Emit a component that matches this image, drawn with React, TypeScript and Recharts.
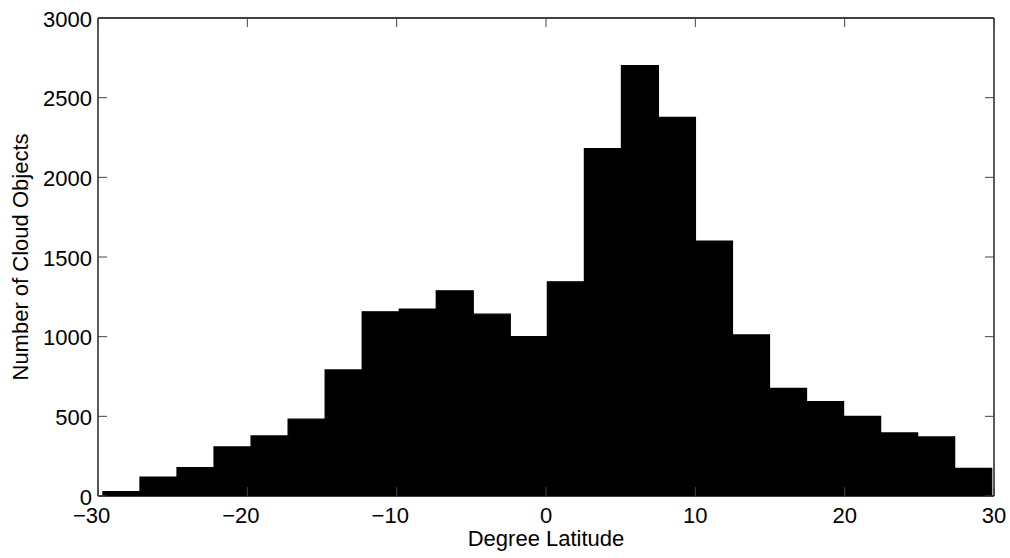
import { ComposedChart, Bar, Line, XAxis, YAxis, Label } from "recharts";

// histogram bin centres (degrees latitude) and counts per bin
const binCenters = [
  -28.43, -25.95, -23.47, -20.99, -18.51, -16.03, -13.55, -11.07, -8.59, -6.11,
  -3.63, -1.15, 1.33, 3.81, 6.29, 8.77, 11.25, 13.73, 16.21, 18.69, 21.17,
  23.65, 26.13, 28.61,
];
const counts = [
  27, 119, 178, 308, 377, 482, 791, 1156, 1173, 1288, 1141, 1001, 1344, 2180,
  2701, 2376, 1600, 1011, 676, 592, 500, 396, 371, 174,
];
const xTicks = [-30, -20, -10, 0, 10, 20, 30];
const yTicks = [0, 500, 1000, 1500, 2000, 2500, 3000];

const data = binCenters.map((x, i) => ({ x, count: counts[i] }));

const FONT = '"Liberation Sans", Helvetica, Arial, sans-serif';
const FS = 22;
const DIGIT_W = 0.556 * FS;
const TICK_LEN = 9;
const TICK_COLOR = "#444";
const FRAME = { stroke: "#000", strokeWidth: 1.3 };

function BottomTick(props: any) {
  const { x, y, payload } = props;
  const v = payload.value as number;
  const digits = String(Math.abs(v));
  const half = (digits.length * DIGIT_W) / 2;
  return (
    <g>
      <line x1={x} y1={y} x2={x} y2={y - TICK_LEN} stroke={TICK_COLOR} />
      <text x={x} y={y + 27} textAnchor="middle" fontSize={FS} fontFamily={FONT} fill="#000">
        {digits}
      </text>
      {v < 0 && (
        <text x={x - half} y={y + 27} textAnchor="end" fontSize={FS} fontFamily={FONT} fill="#000">
          {"\u2212"}
        </text>
      )}
    </g>
  );
}

function TopTick(props: any) {
  const { x, y } = props;
  return <line x1={x} y1={y} x2={x} y2={y + TICK_LEN} stroke={TICK_COLOR} />;
}

function LeftTick(props: any) {
  const { x, y, payload } = props;
  return (
    <g>
      <line x1={x} y1={y} x2={x + TICK_LEN} y2={y} stroke={TICK_COLOR} />
      <text x={x - 6} y={y + 8.5} textAnchor="end" fontSize={FS} fontFamily={FONT} fill="#000">
        {payload.value}
      </text>
    </g>
  );
}

function RightTick(props: any) {
  const { x, y } = props;
  return <line x1={x} y1={y} x2={x - TICK_LEN} y2={y} stroke={TICK_COLOR} />;
}

export default function App() {
  return (
    <div style={{ position: "absolute", left: 0, top: 0, background: "#fff" }}>
      <ComposedChart
        width={1010}
        height={558}
        data={data}
        margin={{ top: 17, right: 15, bottom: 0, left: 0 }}
        barCategoryGap={0}
        barGap={0}
      >
        <XAxis
          dataKey="x"
          type="number"
          domain={[-30, 30]}
          ticks={xTicks}
          interval={0}
          allowDataOverflow
          height={62}
          tickSize={0}
          tickMargin={0}
          tickLine={false}
          axisLine={FRAME}
          tick={(p: any) => <BottomTick {...p} />}
        >
          <Label
            content={(p: any) => {
              const vb = p.viewBox;
              return (
                <text
                  x={vb.x + vb.width / 2}
                  y={vb.y + 50}
                  textAnchor="middle"
                  fontSize={FS}
                  fontFamily={FONT}
                  fill="#000"
                >
                  Degree Latitude
                </text>
              );
            }}
          />
        </XAxis>
        <XAxis
          xAxisId="top"
          dataKey="x"
          orientation="top"
          type="number"
          domain={[-30, 30]}
          ticks={xTicks}
          interval={0}
          allowDataOverflow
          height={1}
          tickSize={0}
          tickMargin={0}
          tickLine={false}
          axisLine={FRAME}
          tick={(p: any) => <TopTick {...p} />}
        />
        <YAxis
          type="number"
          domain={[0, 3000]}
          ticks={yTicks}
          interval={0}
          allowDataOverflow
          width={98}
          tickSize={0}
          tickMargin={0}
          tickLine={false}
          axisLine={FRAME}
          tick={(p: any) => <LeftTick {...p} />}
        >
          <Label
            content={(p: any) => {
              const vb = p.viewBox;
              const cx = vb.x + 20.5;
              const cy = vb.y + vb.height / 2;
              return (
                <text
                  x={cx}
                  y={cy}
                  transform={`rotate(-90 ${cx} ${cy})`}
                  textAnchor="middle"
                  dominantBaseline="central"
                  fontSize={FS}
                  fontFamily={FONT}
                  fill="#000"
                >
                  Number of Cloud Objects
                </text>
              );
            }}
          />
        </YAxis>
        <YAxis
          yAxisId="right"
          orientation="right"
          type="number"
          domain={[0, 3000]}
          ticks={yTicks}
          interval={0}
          allowDataOverflow
          width={1}
          tickSize={0}
          tickMargin={0}
          tickLine={false}
          axisLine={FRAME}
          tick={(p: any) => <RightTick {...p} />}
        />
        <Bar dataKey="count" fill="#000" stroke="#000" strokeWidth={1.2} isAnimationActive={false} />
        {/* invisible series so the top and right axes get drawn */}
        <Line
          xAxisId="top"
          yAxisId="right"
          dataKey="count"
          stroke="none"
          dot={false}
          activeDot={false}
          legendType="none"
          isAnimationActive={false}
        />
      </ComposedChart>
    </div>
  );
}
